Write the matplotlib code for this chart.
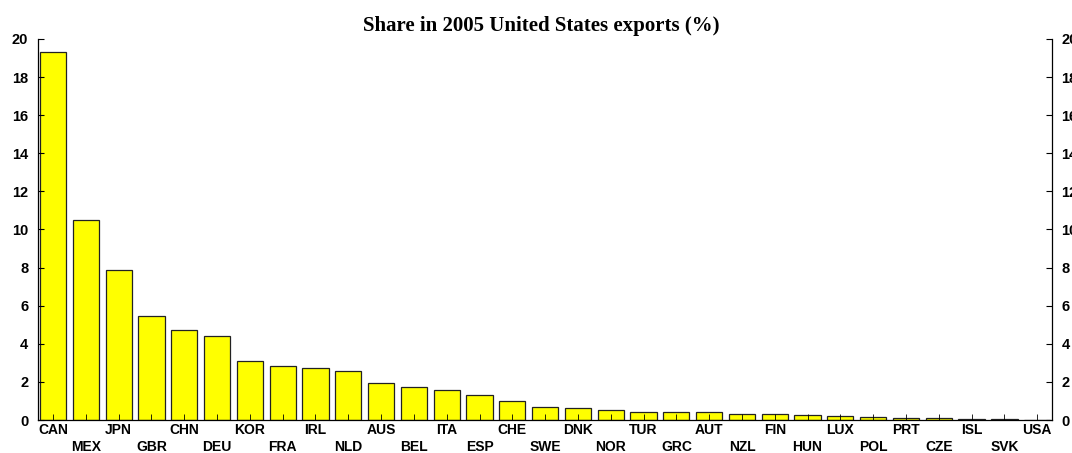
import matplotlib
matplotlib.use("Agg")
import matplotlib.pyplot as plt

countries = ["CAN", "MEX", "JPN", "GBR", "CHN", "DEU", "KOR", "FRA", "IRL", "NLD",
             "AUS", "BEL", "ITA", "ESP", "CHE", "SWE", "DNK", "NOR", "TUR", "GRC",
             "AUT", "NZL", "FIN", "HUN", "LUX", "POL", "PRT", "CZE", "ISL", "SVK", "USA"]
shares = [19.3, 10.5, 7.9, 5.46, 4.72, 4.41, 3.1, 2.83, 2.72, 2.57,
          1.94, 1.73, 1.57, 1.31, 1.0, 0.68, 0.62, 0.5, 0.42, 0.4,
          0.4, 0.3, 0.3, 0.26, 0.22, 0.17, 0.13, 0.13, 0.07, 0.05, 0.0]
yticks = [0, 2, 4, 6, 8, 10, 12, 14, 16, 18, 20]

fig = plt.figure(figsize=(10.72, 4.53), dpi=100)
ax = fig.add_axes([0.0354, 0.0728, 0.9456, 0.8412])

x = list(range(len(countries)))
ax.bar(x, shares, width=0.8, color="#ffff00", edgecolor="#222222", linewidth=0.9)

ax.set_xlim(-0.46, 30.44)
ax.set_ylim(0, 20)
ax.set_yticks(yticks)
ax.set_xticks(x)
# alternate the labels on two rows
labels = [c if i % 2 == 0 else "\n" + c for i, c in enumerate(countries)]
ax.set_xticklabels(labels, fontfamily="Liberation Sans", fontweight="bold",
                   fontsize=10, linespacing=1.25)

ax.tick_params(axis="x", direction="in", length=4, width=0.6, pad=2)
ax.tick_params(axis="y", direction="in", length=4, width=0.8, labelsize=10.5,
               right=True, labelright=True, pad=7)
for lab in ax.get_yticklabels():
    lab.set_fontfamily("Liberation Sans")
    lab.set_fontweight("bold")

ax.spines["top"].set_visible(False)
for s in ["left", "right", "bottom"]:
    ax.spines[s].set_linewidth(0.9)

fig.text(0.505, 0.943, "Share in 2005 United States exports (%)", ha="center",
         va="center", fontfamily="Liberation Serif", fontweight="bold", fontsize=15)

fig.savefig("out.png", dpi=100)
